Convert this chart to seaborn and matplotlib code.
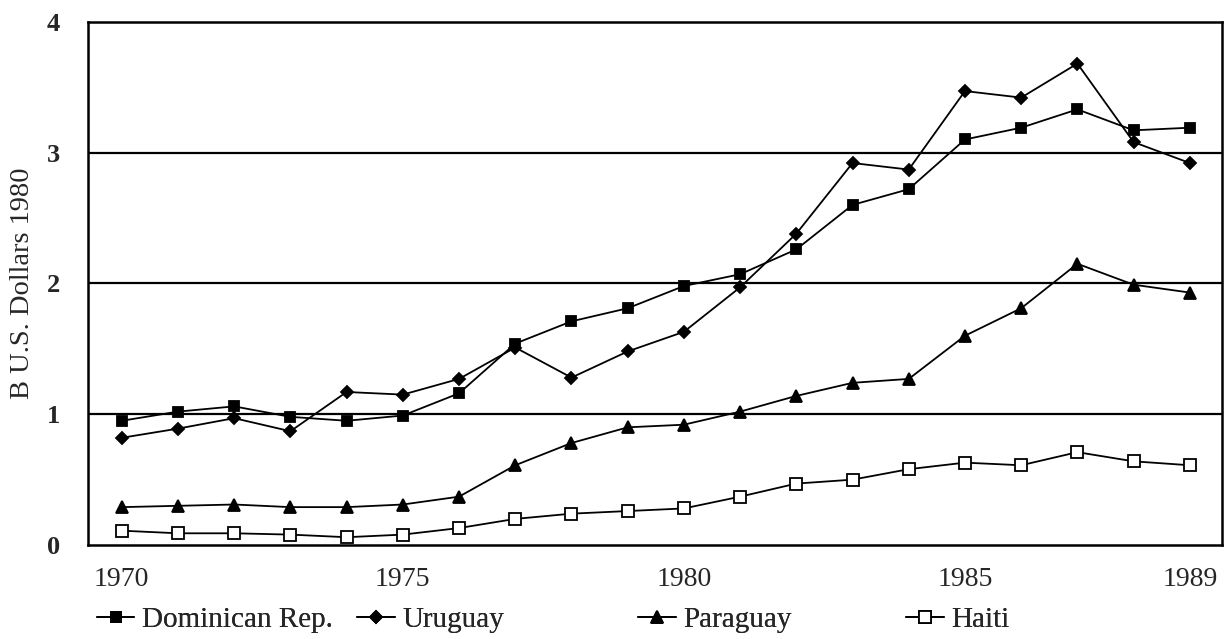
import pandas as pd
import matplotlib.pyplot as plt
import seaborn as sns

# values (billions of 1980 US dollars)
years = list(range(1970, 1990))
dominican = [0.95, 1.02, 1.06, 0.98, 0.95, 0.99, 1.16, 1.54, 1.71, 1.81,
             1.98, 2.07, 2.26, 2.60, 2.72, 3.10, 3.19, 3.33, 3.17, 3.19]
uruguay = [0.82, 0.89, 0.97, 0.87, 1.17, 1.15, 1.27, 1.51, 1.28, 1.48,
           1.63, 1.97, 2.38, 2.92, 2.87, 3.47, 3.42, 3.68, 3.08, 2.92]
paraguay = [0.29, 0.30, 0.31, 0.29, 0.29, 0.31, 0.37, 0.61, 0.78, 0.90,
            0.92, 1.02, 1.14, 1.24, 1.27, 1.60, 1.81, 2.15, 1.99, 1.93]
haiti = [0.11, 0.09, 0.09, 0.08, 0.06, 0.08, 0.13, 0.20, 0.24, 0.26,
         0.28, 0.37, 0.47, 0.50, 0.58, 0.63, 0.61, 0.71, 0.64, 0.61]
countries = ["Dominican Rep.", "Uruguay", "Paraguay", "Haiti"]
year_ticks = [1970, 1975, 1980, 1985, 1989]
y_ticks = [0, 1, 2, 3, 4]

df = pd.DataFrame({"year": years, "Dominican Rep.": dominican, "Uruguay": uruguay,
                   "Paraguay": paraguay, "Haiti": haiti})
long_df = df.melt(id_vars="year", var_name="country", value_name="value")

sns.set_style("white")
plt.rcParams['font.family'] = ['Liberation Serif', 'DejaVu Serif']

fig = plt.figure(figsize=(12.28, 6.39), dpi=100)
ax = fig.add_axes([0.0717, 0.147, 0.9233, 0.819])

marker_style = {
    "Dominican Rep.": dict(marker="s", markersize=7, markerfacecolor="black"),
    "Uruguay": dict(marker="D", markersize=6, markerfacecolor="black"),
    "Paraguay": dict(marker="^", markersize=8, markerfacecolor="black"),
    "Haiti": dict(marker="s", markersize=8, markerfacecolor="white"),
}
for c in countries:
    sns.lineplot(data=long_df[long_df["country"] == c], x="year", y="value",
                 color="black", linewidth=1.3, markeredgecolor="black",
                 markeredgewidth=1.3, label=c, ax=ax, **marker_style[c])

for v in [1, 2, 3]:
    ax.axhline(v, color="black", linewidth=1.6, zorder=0)

ax.set_xlim(1969.4, 1989.57)
ax.set_ylim(0, 4)
ax.set_xticks(years)
ax.set_xticklabels([str(y) if y in year_ticks else "" for y in years], fontsize=20)
ax.set_yticks(y_ticks)
ax.set_yticklabels([str(v) for v in y_ticks], fontsize=19, fontweight="bold")
ax.tick_params(axis="x", direction="in", length=6, width=1, color="black", pad=16)
ax.tick_params(axis="y", length=0, pad=20)
ax.set_xlabel("")
ax.set_ylabel("B U.S. Dollars 1980", fontsize=20.5, labelpad=9)
for sp in ax.spines.values():
    sp.set_color("black")
    sp.set_linewidth(1.8)

ax.get_legend().remove()
handles, labels = ax.get_legend_handles_labels()
# one legend per entry, the entries in the original are unevenly spaced
legend_x = [0.062, 0.274, 0.503, 0.721]
for h, lab, lx in zip(handles, labels, legend_x):
    fig.add_artist(fig.legend([h], [lab], loc="center left", bbox_to_anchor=(lx, 0.03),
                              frameon=False, fontsize=21, handlelength=1.3,
                              handletextpad=0.25, borderpad=0.2))

fig.savefig("out.png", dpi=100)
